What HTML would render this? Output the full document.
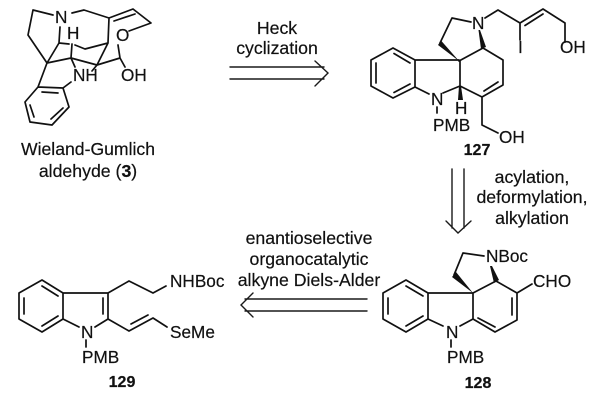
<!DOCTYPE html>
<html><head><meta charset="utf-8"><style>
html,body{margin:0;padding:0;background:#fff}
svg{display:block}
text{font-family:"Liberation Sans",Arial,sans-serif;fill:#111;stroke:#111;stroke-width:.2px}
.l{font-size:17.2px}.c{font-size:17.7px;text-anchor:middle}.b{font-size:16px;font-weight:bold;text-anchor:middle}
.s{fill:none;stroke:#111;stroke-width:1.7;stroke-linecap:round;stroke-linejoin:round}
.a{fill:none;stroke:#1a1a1a;stroke-width:1.4;stroke-linecap:round;stroke-linejoin:miter}
</style></head><body>
<svg width="601" height="414" viewBox="0 0 601 414" xmlns="http://www.w3.org/2000/svg">
<!-- Wieland-Gumlich -->
<path class="s" d="M53 15L33 10L28 35L47 63L38 87L25 102L30 122L52 125L69 107L63 88L38 87M63 88L71 82M47 63L71 58L75 67M71 58L72 44M47 63L59 43L60 27M59 43L69 44M75 45L85 49L108 43L97 65L92 71M71 58L97 65L120 58L118 45M120 58L125 67M108 43L109 18L84 10L72 13M109 18L133 9L151 23L129 31M114 21L135 14M42 92L58 93M30 105L34 117M51 119L63 108"/>
<text class="l" x="73" y="81">NH</text><text class="l" x="55" y="23">N</text><text class="l" x="67" y="39">H</text>
<text class="l" x="116" y="41">O</text><text class="l" x="121" y="81">OH</text>
<text x="88" y="155" text-anchor="middle" style="font-size:17.700px" textLength="134" lengthAdjust="spacingAndGlyphs">Wieland-Gumlich</text>
<text x="88" y="177" text-anchor="middle" style="font-size:17.700px">aldehyde (<tspan font-weight="bold">3</tspan>)</text>
<!-- Heck arrow -->
<path class="a" d="M230 67H324M230 79H324M315 61L328 73L315 86"/>
<text class="c" x="277" y="34">Heck</text><text class="c" x="277" y="54">cyclization</text>
<!-- 127 -->
<path class="s" d="M415 60L393 48L371 60V86L393 98L415 87V60ZM394 53.500L410 63M376 63V83M394 92.500L410 84M415 60H459M415 87L429 94M443 93L460 86V61M471 22L452 18L440 43M459 61L483 48L503 60V85L482 97L460 86M498 82L484 91M437 107V113M482 97V125L498 133M485 18L498 10L520 23L543 9L565 23V42M525 25.500L543 14M520 23V40"/>
<path d="M459 61L441 40.500L438 45Z" fill="#111"/>
<path d="M478.500 30L480 30L486 47L481 49Z" fill="#111"/>
<path d="M459 86L461 86L463 100L458 100Z" fill="#111"/>
<text class="l" x="472" y="29">N</text><text class="l" x="431" y="105">N</text><text class="l" x="455" y="114">H</text>
<text class="l" x="433" y="131">PMB</text><text class="l" x="499" y="143">OH</text><text class="l" x="560" y="53">OH</text><text class="l" x="518" y="53">I</text>
<text class="b" x="477" y="155">127</text>
<!-- down arrow -->
<path class="a" d="M452 169V228M464 169V228M446 221L458 233L471 221"/>
<text class="c" x="532" y="183">acylation,</text><text class="c" x="532" y="203">deformylation,</text><text class="c" x="532" y="224">alkylation</text>
<!-- 128 -->
<path class="s" d="M406 280L383 293V319L406 332L428 319V293ZM406 286L423 296M388 298V314M406 326L423 316M428 293H473V319L460 326M443 326L428 319M451 340V347M473 319L495 332L517 320V293L496 281L473 293M478 318L495 327M512 298V315M517 293L532 284M454 275L463 253L484 256"/>
<path d="M473 293L456 272L452 277Z" fill="#111"/>
<path d="M490 266L492 266L499 280L494 283Z" fill="#111"/>
<text class="l" x="486" y="262">NBoc</text><text class="l" x="533" y="287">CHO</text><text class="l" x="446" y="338">N</text><text class="l" x="447" y="363">PMB</text>
<text class="b" x="478" y="388">128</text>
<!-- left arrow -->
<path class="a" d="M367 299H245M367 311H245M253 293L241 305L253 317"/>
<text class="c" x="309" y="244">enantioselective</text><text class="c" x="309" y="265">organocatalytic</text><text class="c" x="309" y="286">alkyne Diels-Alder</text>
<!-- 129 -->
<path class="s" d="M42 280L19 293V319L42 332L63 319V293ZM42 286L58 296M24 298V314M42 326L58 316M63 293H108V319L95 327M79 327L63 319M103 298V314M86 340V347M108 293L129 281L153 293L166 286M108 319L129 331L153 318L167 327M131 324L148 315"/>
<text class="l" x="170" y="287">NHBoc</text><text class="l" x="170" y="338">SeMe</text><text class="l" x="81" y="338">N</text><text class="l" x="82" y="363">PMB</text>
<text class="b" x="122" y="387">129</text>
</svg>
</body></html>
